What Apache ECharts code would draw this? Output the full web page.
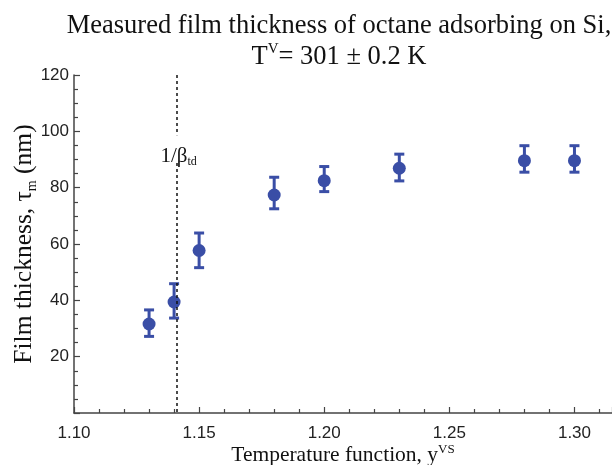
<!DOCTYPE html>
<html>
<head>
<meta charset="utf-8">
<script src="https://cdn.jsdelivr.net/npm/echarts@6/dist/echarts.min.js"></script>
<style>html,body{margin:0;padding:0;background:#fff;}#c{width:612px;height:465px;}</style>
</head>
<body>
<div id="c"></div>
<script>
// Data
const xValues = [1.13, 1.14, 1.15, 1.18, 1.20, 1.23, 1.28, 1.30];
const thickness = [31.6, 39.4, 57.7, 77.4, 82.5, 86.9, 89.6, 89.6];
const errLow = [27.2, 33.7, 51.6, 72.5, 78.6, 82.4, 85.5, 85.5];
const errHigh = [36.6, 45.9, 63.9, 83.7, 87.5, 91.9, 94.9, 94.9];
const betaLine = 1.141;
const betaGapTop = 98.6;
const betaGapBottom = 88.8;
const betaLabelY = 91.2;
const xTicks = [1.10, 1.15, 1.20, 1.25, 1.30];
const yTicks = [20, 40, 60, 80, 100, 120];

const blue = '#3a4ea6';
const serif = '"Liberation Serif", "Times New Roman", serif';
const sans = '"Liberation Sans", Arial, sans-serif';

const pointData = xValues.map((x, i) => [x, thickness[i]]);
const errData = xValues.map((x, i) => [x, errLow[i], errHigh[i]]);

const chart = echarts.init(document.getElementById('c'));
chart.setOption({
  animation: false,
  backgroundColor: '#fff',
  title: {
    text: 'Measured film thickness of octane adsorbing on Si,\nT{sup|V}= 301 ± 0.2 K',
    left: 334,
    top: 6,
    textAlign: 'center',
    textStyle: {
      fontFamily: serif, fontSize: 26.5, fontWeight: 'normal', color: '#111', lineHeight: 31,
      rich: {
        sup: { fontFamily: serif, fontSize: 15, color: '#111', verticalAlign: 'top', lineHeight: 16 }
      }
    }
  },
  grid: { left: 74, right: 0, top: 75, bottom: 52, containLabel: false, outerBoundsMode: 'none' },
  xAxis: {
    type: 'value',
    min: xTicks[0],
    max: 1.315,
    interval: 0.05,
    name: 'Temperature function, y{sup|VS}',
    nameLocation: 'middle',
    nameGap: 30,
    nameMoveOverlap: false,
    nameTextStyle: {
      fontFamily: serif, fontSize: 21.5, color: '#111', lineHeight: 24,
      rich: { sup: { fontFamily: serif, fontSize: 13, color: '#111', verticalAlign: 'top', lineHeight: 13 } }
    },
    axisLine: { lineStyle: { color: '#444', width: 1.5 } },
    axisTick: { inside: true, length: 6, lineStyle: { color: '#444', width: 1.2 } },
    minorTick: { show: true, splitNumber: 5, length: 4, lineStyle: { color: '#444', width: 1.2 } },
    splitLine: { show: false },
    axisLabel: {
      showMaxLabel: false,
      margin: 12,
      fontFamily: sans, fontSize: 17, color: '#222',
      formatter: v => (xTicks.some(t => Math.abs(t - v) < 1e-6) ? v.toFixed(2) : '')
    }
  },
  yAxis: {
    type: 'value',
    min: 0,
    max: 120,
    interval: 20,
    name: 'Film thickness, τ{sub|m} (nm)',
    nameLocation: 'middle',
    nameRotate: 90,
    nameGap: 35,
    nameMoveOverlap: false,
    nameTextStyle: {
      fontFamily: serif, fontSize: 25.5, color: '#111', lineHeight: 30,
      rich: { sub: { fontFamily: serif, fontSize: 14, color: '#111', verticalAlign: 'bottom', lineHeight: 14 } }
    },
    axisLine: { lineStyle: { color: '#444', width: 1.5 } },
    axisTick: { inside: true, length: 6, lineStyle: { color: '#444', width: 1.2 } },
    minorTick: { show: true, splitNumber: 4, length: 4, lineStyle: { color: '#444', width: 1.2 } },
    splitLine: { show: false },
    axisLabel: {
      margin: 5,
      fontFamily: sans, fontSize: 17, color: '#222',
      formatter: v => (yTicks.indexOf(v) >= 0 ? String(v) : '')
    }
  },
  series: [
    {
      type: 'custom',
      data: errData,
      renderItem: function (params, api) {
        const x = api.value(0);
        const lo = api.coord([x, api.value(1)]);
        const hi = api.coord([x, api.value(2)]);
        const hw = 5;
        const st = { stroke: blue, lineWidth: 3 };
        return {
          type: 'group',
          children: [
            { type: 'line', shape: { x1: lo[0], y1: lo[1], x2: hi[0], y2: hi[1] }, style: st },
            { type: 'line', shape: { x1: lo[0] - hw, y1: lo[1], x2: lo[0] + hw, y2: lo[1] }, style: st },
            { type: 'line', shape: { x1: hi[0] - hw, y1: hi[1], x2: hi[0] + hw, y2: hi[1] }, style: st }
          ]
        };
      },
      z: 2
    },
    {
      type: 'scatter',
      data: pointData,
      symbol: 'circle',
      symbolSize: 13,
      itemStyle: { color: blue, opacity: 1 },
      z: 3,
      markLine: {
        silent: true,
        symbol: ['none', 'none'],
        label: { show: false },
        lineStyle: { color: '#111', type: [3, 3], width: 1.5 },
        data: [
          [{ coord: [betaLine, 120] }, { coord: [betaLine, betaGapTop] }],
          [{ coord: [betaLine, betaGapBottom] }, { coord: [betaLine, 0] }]
        ]
      }
    },
    {
      type: 'scatter',
      data: [[betaLine, betaLabelY]],
      symbolSize: 0,
      silent: true,
      itemStyle: { opacity: 1, color: '#111' },
      label: {
        show: true,
        position: 'inside',
        offset: [2, 0],
        formatter: '1/β{sub|td}',
        fontFamily: serif, fontSize: 21, color: '#111', lineHeight: 24, opacity: 1,
        rich: { sub: { fontFamily: serif, fontSize: 12, color: '#111', verticalAlign: 'bottom', lineHeight: 12 } }
      }
    }
  ]
});
</script>
</body>
</html>
